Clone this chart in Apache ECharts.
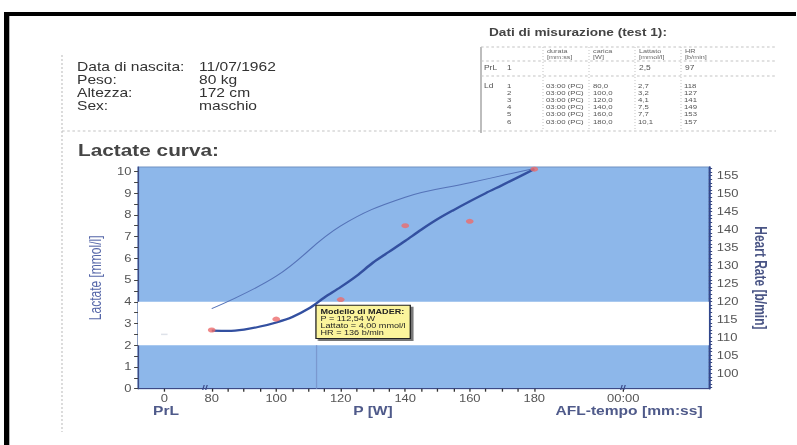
<!DOCTYPE html>
<html>
<head>
<meta charset="utf-8">
<script src="https://cdn.jsdelivr.net/npm/echarts@6/dist/echarts.min.js"></script>
<style>
html,body{margin:0;padding:0;background:#fff;overflow:hidden;width:797px;height:445px}
#chart{width:613.08px;height:445px;transform:scaleX(1.3);transform-origin:0 0;}
</style>
</head>
<body>
<div id="chart"></div>
<script>
// ---------------- data ----------------
const patientLabels = ['Data di nascita:', 'Peso:', 'Altezza:', 'Sex:'];
const patientValues = ['11/07/1962', '80 kg', '172 cm', 'maschio'];

const stageNo = [1, 2, 3, 4, 5, 6];
const durations = ['03:00 (PC)', '03:00 (PC)', '03:00 (PC)', '03:00 (PC)', '03:00 (PC)', '03:00 (PC)'];
const powerW = [80, 100, 120, 140, 160, 180];
const lactateMeasured = [2.7, 3.2, 4.1, 7.5, 7.7, 10.1];
const heartRate = [118, 127, 141, 149, 153, 157];
const prlLactate = 2.5;
const prlHR = 97;

// MADER model curve
const fitPower = [80, 85, 90, 95, 100, 105, 110, 115, 120, 125, 130, 135, 140, 145, 150, 155, 160, 165, 170, 175, 180];
const fitLactate = [2.67, 2.66, 2.72, 2.86, 3.05, 3.30, 3.68, 4.20, 4.68, 5.20, 5.80, 6.30, 6.80, 7.32, 7.80, 8.22, 8.62, 9.00, 9.36, 9.73, 10.10];

const maderP = 112.54;
const maderLactate = 4.00;
const maderHR = 136;

const xTickLabels = [80, 100, 120, 140, 160, 180];
const lactateTickLabels = [0, 1, 2, 3, 4, 5, 6, 7, 8, 9, 10];
const hrTickLabels = [100, 105, 110, 115, 120, 125, 130, 135, 140, 145, 150, 155];

// ---------------- layout helpers ----------------
const SX = 1.3;                 // horizontal stretch of the scanned page
const ux = px => px / SX;       // picture x -> chart x
const FONT = 'Liberation Sans, Arial, sans-serif';
const PRL_X = 65.3;             // position of the "PrL" column on the power axis
const AFL_X = 207.6;            // position of the AFL-tempo column on the power axis

const fmt = (v, d) => v.toFixed(d).replace('.', ',');

function txt(x, y, text, size, opts) {
  opts = opts || {};
  return {
    type: 'text', x: ux(x), y: y, z: 50,
    style: {
      text: text,
      font: (opts.weight || 'normal') + ' ' + size + 'px ' + FONT,
      fill: opts.color || '#333',
      textAlign: opts.align || 'left',
      textVerticalAlign: 'middle'
    }
  };
}
function line(x1, y1, x2, y2, color, dash, w) {
  return {
    type: 'line', z: 40,
    shape: { x1: ux(x1), y1: y1, x2: ux(x2), y2: y2 },
    style: { stroke: color, lineWidth: w || 1, lineDash: dash || null }
  };
}

const g = [];
// black frame of the scan
g.push({ type: 'rect', z: 60, shape: { x: ux(4), y: 12, width: ux(792), height: 4 }, style: { fill: '#000' } });
g.push({ type: 'rect', z: 60, shape: { x: ux(4), y: 12, width: ux(5.3), height: 433 }, style: { fill: '#000' } });
// dotted page rules
g.push(line(62, 55, 62, 432, '#c9c9c9', [2, 2]));
g.push(line(62, 131, 776, 131, '#c4c4c4', [2, 2]));

// patient block
patientLabels.forEach((t, i) => {
  g.push(txt(77, 67 + i * 13, t, 12, { color: '#333' }));
  g.push(txt(199, 67 + i * 13, patientValues[i], 12, { color: '#333' }));
});

// measurement table
g.push(txt(489, 33, 'Dati di misurazione (test 1):', 10.5, { weight: 'bold', color: '#444' }));
g.push(line(481, 47, 481, 133, '#9a9a9a', null, 1));
g.push(line(481, 47, 776, 47, '#c4c4c4', [2, 2]));
g.push(line(481, 61, 776, 61, '#c4c4c4', [2, 2]));
g.push(line(481, 76, 776, 76, '#c4c4c4', [2, 2]));
[543, 589, 635, 681].forEach(x => g.push(line(x, 47, x, 131, '#d2d2d2', [1, 2])));
const colX = { dur: 545, car: 591, lat: 637, hr: 683 };
const hdr = [['durata', '[mm:ss]', colX.dur], ['carica', '[W]', colX.car], ['Lattato', '[mmol/l]', colX.lat], ['HR', '[b/min]', colX.hr]];
hdr.forEach(h => {
  g.push(txt(h[2] + 2, 50.5, h[0], 5.6, { color: '#666' }));
  g.push(txt(h[2] + 2, 57, h[1], 5.6, { color: '#666' }));
});
g.push(txt(484, 68, 'PrL', 6.5, { color: '#555' }));
g.push(txt(507, 68, '1', 6.5, { color: '#555' }));
g.push(txt(colX.lat + 2, 68, fmt(prlLactate, 1), 6.5, { color: '#555' }));
g.push(txt(colX.hr + 2, 68, String(prlHR), 6.5, { color: '#555' }));
g.push(txt(484, 85.5, 'Ld', 6.5, { color: '#555' }));
stageNo.forEach((n, i) => {
  const y = 85.5 + i * 7.2;
  g.push(txt(507, y, String(n), 6, { color: '#555' }));
  g.push(txt(colX.dur + 1, y, durations[i], 6, { color: '#555' }));
  g.push(txt(colX.car + 2, y, fmt(powerW[i], 1), 6, { color: '#555' }));
  g.push(txt(colX.lat + 1, y, fmt(lactateMeasured[i], 1), 6, { color: '#555' }));
  g.push(txt(colX.hr + 1, y, String(heartRate[i]), 6, { color: '#555' }));
});

// chart title and bottom captions
g.push(txt(78, 150, 'Lactate curva:', 16, { weight: 'bold', color: '#454545' }));
g.push(txt(166, 411, 'PrL', 12, { weight: 'bold', color: '#4f5a8a', align: 'center' }));
g.push(txt(373, 411, 'P [W]', 12, { weight: 'bold', color: '#4f5a8a', align: 'center' }));
g.push(txt(629, 411, 'AFL-tempo [mm:ss]', 12, { weight: 'bold', color: '#4f5a8a', align: 'center' }));
// axis break marks
g.push(txt(205, 387, '//', 8, { color: '#3b4a8a', align: 'center', weight: 'bold' }));
g.push(txt(623, 387, '//', 8, { color: '#3b4a8a', align: 'center', weight: 'bold' }));

// ---------------- chart ----------------
const xTicks = [PRL_X, AFL_X];
for (let v = 80; v <= 180; v += 5) xTicks.push(v);
const lacTicks = [];
for (let v = 0; v <= 10; v += 0.5) lacTicks.push(v);
const hrTicks = [];
for (let v = 96; v <= 157; v += 1) hrTicks.push(v);

const chart = echarts.init(document.getElementById('chart'), null, { renderer: 'svg' });
chart.setOption({
  animation: false,
  backgroundColor: 'transparent',
  textStyle: { fontFamily: FONT },
  grid: {
    left: ux(138), right: ux(797 - 709), top: 167, bottom: 445 - 388.7,
    show: true, backgroundColor: '#8db7ea', borderColor: '#7191c2', borderWidth: 1
  },
  xAxis: {
    type: 'value', min: 57.15, max: 234.15,
    axisLine: { show: true, lineStyle: { color: '#3d4a86', width: 1 } },
    axisTick: { show: true, customValues: xTicks, length: 3, lineStyle: { color: '#333' } },
    axisLabel: {
      customValues: [PRL_X].concat(xTickLabels, [AFL_X]),
      formatter: v => Math.abs(v - PRL_X) < 1e-6 ? '0' : (Math.abs(v - AFL_X) < 1e-6 ? '00:00' : String(v)),
      color: '#555', fontSize: 10, margin: 5
    },
    splitLine: { show: false }
  },
  yAxis: [
    {
      type: 'value', min: 0, max: 10.2, position: 'left',
      name: 'Lactate [mmol/l]', nameLocation: 'middle', nameGap: 11, nameRotate: 90,
      nameTextStyle: { color: '#5566a8', fontSize: 12 },
      axisLine: { show: true, lineStyle: { color: '#3d4a86', width: 1 } },
      axisTick: { show: true, customValues: lacTicks, length: 3, lineStyle: { color: '#444' } },
      axisLabel: { customValues: lactateTickLabels, color: '#555', fontSize: 10, margin: 5 },
      splitLine: { show: false }
    },
    {
      type: 'value', min: 95.7, max: 157.4, position: 'right',
      name: 'Heart Rate [b/min]', nameLocation: 'middle', nameGap: 19, nameRotate: -90,
      nameTextStyle: { color: '#4a5585', fontSize: 12, fontWeight: 'bold' },
      axisLine: { show: true, lineStyle: { color: '#2f4590', width: 1.5 } },
      axisTick: { show: true, customValues: hrTicks, length: 2.5, lineStyle: { color: '#3a4a80' } },
      axisLabel: { customValues: hrTickLabels, color: '#555', fontSize: 10, margin: 6 },
      splitLine: { show: false }
    }
  ],
  graphic: { elements: g },
  series: [
    {
      name: 'Modello', type: 'line', yAxisIndex: 0, smooth: 0.3, symbol: 'none', z: 3,
      data: fitPower.map((p, i) => [p, fitLactate[i]]),
      lineStyle: { color: '#3350a0', width: 2.2 },
      markArea: {
        silent: true,
        itemStyle: { color: '#ffffff' },
        data: [[{ yAxis: 2 }, { yAxis: 4 }]]
      },
      markLine: {
        silent: true, symbol: 'none', label: { show: false },
        lineStyle: { color: '#7a98cf', width: 1, type: 'solid' },
        data: [[{ coord: [maderP, 0] }, { coord: [maderP, 2] }]]
      },
      markPoint: {
        silent: true, symbol: 'circle', symbolSize: 0.1,
        data: [{ coord: [maderP, maderLactate] }],
        label: {
          show: true, position: [0, 4], align: 'left', verticalAlign: 'top',
          formatter: '{b|Modello di MADER:}\n{n|P = ' + fmt(maderP, 2) + ' W}\n{n|Lattato = ' + fmt(maderLactate, 2) + ' mmol/l}\n{n|HR = ' + maderHR + ' b/min}',
          backgroundColor: '#fbf49c', borderColor: '#222', borderWidth: 1,
          padding: [2, 3, 1, 3],
          shadowColor: 'rgba(60,60,60,0.7)', shadowOffsetX: 2, shadowOffsetY: 2, shadowBlur: 0,
          rich: {
            b: { fontSize: 7, fontWeight: 'bold', color: '#222', lineHeight: 7.3, fontFamily: FONT },
            n: { fontSize: 7, color: '#222', lineHeight: 7.3, fontFamily: FONT }
          }
        }
      }
    },
    {
      name: 'HR', type: 'line', yAxisIndex: 1, smooth: 0.4, symbol: 'none', z: 2,
      data: powerW.map((p, i) => [p, heartRate[i]]),
      lineStyle: { color: '#5573b8', width: 1 }
    },
    {
      name: 'Lattato', type: 'scatter', yAxisIndex: 0, z: 5,
      symbol: 'circle', symbolSize: [6, 5],
      itemStyle: { color: '#ec6b6b' },
      data: powerW.map((p, i) => [p, lactateMeasured[i]])
    },
    {
      name: 'PrL', type: 'scatter', yAxisIndex: 0, z: 4,
      symbol: 'rect', symbolSize: [5, 1.5],
      itemStyle: { color: '#d6dbe4' },
      data: [[PRL_X, prlLactate]]
    }
  ]
});
</script>
</body>
</html>
